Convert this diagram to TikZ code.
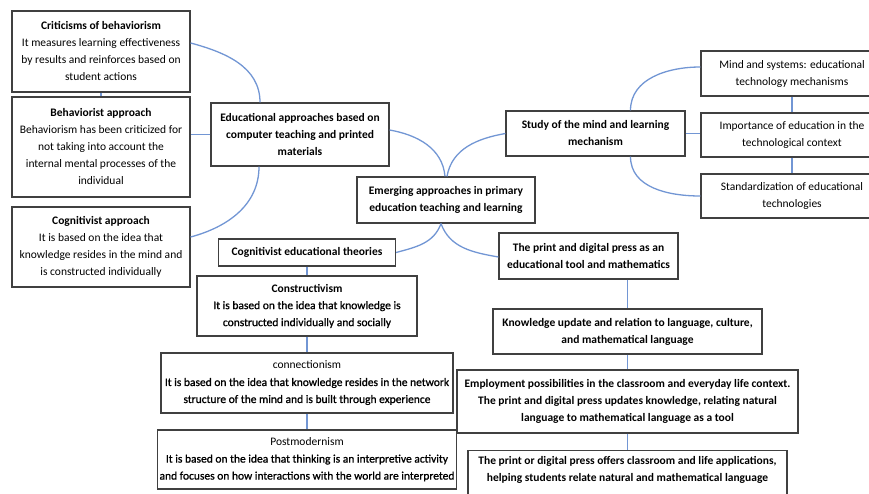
\documentclass[tikz,border=0pt]{standalone}
\usepackage{fontspec}
\setmainfont{Carlito}
\newfontfamily\darkfont[FakeBold=1]{Carlito}
\usepackage{tikz}
\usetikzlibrary{positioning}
\definecolor{linkblue}{RGB}{114,150,212}
\definecolor{boxgray}{RGB}{64,64,64}
\tikzset{
  mapbox/.style={rectangle, draw=boxgray, line width=1.2pt, fill=white,
    align=center, inner sep=2pt, font=\fontsize{11.5}{17}\selectfont},
  keybox/.style={mapbox, font=\fontsize{11.5}{17}\selectfont\bfseries},
  darkbox/.style={mapbox, font=\fontsize{11.5}{17}\selectfont\darkfont},
  link/.style={draw=linkblue, line width=1.3pt}
}

\begin{document}
\begin{tikzpicture}[x=1pt,y=1pt]
  \path[use as bounding box, clip] (0,0) rectangle (869,493);

  \node[mapbox, minimum width=178, minimum height=81] (crit) at (101,441.5) {%
    \textbf{Criticisms of behaviorism}\\
    It measures learning effectiveness\\
    by results and reinforces based on\\
    student actions};
  \node[mapbox, minimum width=178, minimum height=100] (behav) at (101,346) {%
    \textbf{Behaviorist approach}\\
    Behaviorism has been criticized for\\
    not taking into account the\\
    internal mental processes of the\\
    individual};
  \node[mapbox, minimum width=178, minimum height=80] (cogn) at (101,246) {%
    \textbf{Cognitivist approach}\\
    It is based on the idea that\\
    knowledge resides in the mind and\\
    is constructed individually};

  \node[keybox, minimum width=178, minimum height=63] (eduapp) at (300,358.5) {%
    Educational approaches based on\\
    computer teaching and printed\\
    materials};
  \node[keybox, minimum width=178, minimum height=46] (emerg) at (446,293) {%
    Emerging approaches in primary\\
    education teaching and learning};
  \node[keybox, minimum width=179, minimum height=45] (study) at (595.5,359.5) {%
    Study of the mind and learning\\
    mechanism};

  \node[mapbox, minimum width=182, minimum height=45] (mindsys) at (792,419.5) {%
    Mind and systems: educational\\
    technology mechanisms};
  \node[mapbox, minimum width=182, minimum height=44] (import) at (792,358) {%
    Importance of education in the\\
    technological context};
  \node[mapbox, minimum width=182, minimum height=44] (standard) at (792,297) {%
    Standardization of educational\\
    technologies};

  \node[keybox, minimum width=177, minimum height=27] (cogtheo) at (307,240.5) {%
    Cognitivist educational theories};
  \node[darkbox, minimum width=220, minimum height=60] (constr) at (307,187) {%
    {\rmfamily\bfseries Constructivism}\\
    It is based on the idea that knowledge is\\
    constructed individually and socially};
  \node[darkbox, minimum width=292, minimum height=60] (connect) at (307,110) {%
    {\rmfamily connectionism}\\
    It is based on the idea that knowledge resides in the network\\
    structure of the mind and is built through experience};
  \node[darkbox, minimum width=292, minimum height=59] (postmod) at (307,33.5) {%
    {\rmfamily Postmodernism}\\
    It is based on the idea that thinking is an interpretive activity\\
    and focuses on how interactions with the world are interpreted};

  \node[keybox, minimum width=179, minimum height=46] (press) at (588.5,237) {%
    The print and digital press as an\\
    educational tool and mathematics};
  \node[keybox, minimum width=269, minimum height=45] (knowl) at (627.5,161.5) {%
    Knowledge update and relation to language, culture,\\
    and mathematical language};
  \node[keybox, minimum width=341, minimum height=63] (employ) at (627.5,91.5) {%
    Employment possibilities in the classroom and everyday life context.\\
    The print and digital press updates knowledge, relating natural\\
    language to mathematical language as a tool};
  \node[keybox, minimum width=319, minimum height=58, anchor=north] (offers) at (627.5,43) {%
    The print or digital press offers classroom and life applications,\\
    helping students relate natural and mathematical language\\
    \strut};

  \draw[link] (crit) -- (behav);
  \draw[link] ([yshift=8.5]crit.east) to[out=-15,in=90] ([xshift=-40]eduapp.north);
  \draw[link] (eduapp.west) -- (eduapp.west -| behav.east);
  \draw[link] ([xshift=-41]eduapp.south) to[out=-90,in=15] ([yshift=10]cogn.east);
  \draw[link] ([yshift=4.5]eduapp.east) to[out=-10,in=95] ([xshift=-1]emerg.north);
  \draw[link] (study.west) to[out=190,in=80] ([xshift=1]emerg.north);
  \draw[link] ([xshift=-5]emerg.south) to[out=-110,in=15] (cogtheo.east);
  \draw[link] ([xshift=-5]emerg.south) to[out=-70,in=170] ([yshift=-1]press.west);
  \draw[link] ([xshift=35]study.north) to[out=90,in=180] ([yshift=6.5]mindsys.west);
  \draw[link] (study.east) -- (study.east -| import.west);
  \draw[link] ([xshift=35]study.south) to[out=-90,in=180] (standard.west);
  \draw[link] (mindsys) -- (import);
  \draw[link] (import) -- (standard);
  \draw[link] (cogtheo) -- (constr);
  \draw[link] (constr) -- (connect);
  \draw[link] (connect) -- (postmod);
  \draw[link] (press.south -| knowl.north) -- (knowl.north);
  \draw[link] (knowl) -- (employ);
  \draw[link] (employ) -- (offers);
\end{tikzpicture}
\end{document}
